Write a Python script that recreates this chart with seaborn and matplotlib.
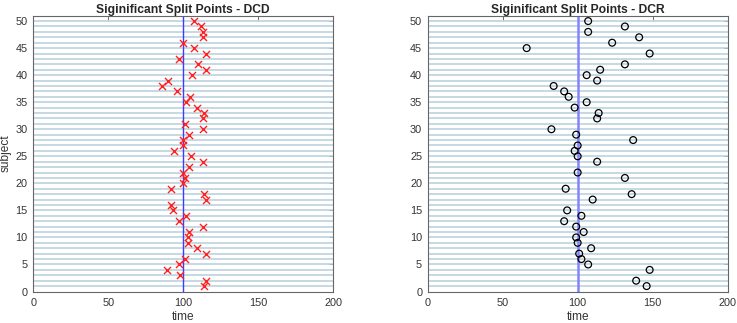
import numpy as np
import pandas as pd
import matplotlib
matplotlib.use("Agg")
import matplotlib.pyplot as plt
import seaborn as sns

# subjects shown as horizontal guide lines
subjects = np.arange(1, 51)
split_ref = 100

# DCD split points (subject -> time)
dcd_subject = [50, 49, 48, 47, 46, 45, 44, 43, 42, 41, 40, 39, 38, 37, 36, 35, 34,
               33, 32, 31, 30, 29, 28, 27, 26, 25, 24, 23, 22, 21, 20, 19, 18, 17,
               16, 15, 14, 13, 12, 11, 10, 9, 8, 7, 6, 5, 4, 3, 2, 1]
dcd_time = [107, 112, 113, 113, 100, 107, 115, 97, 110, 115, 105.5, 90, 86, 95.5, 104.5, 102, 109,
            114, 113, 101, 113, 104, 100, 100, 94, 105, 113, 103.5, 100, 101, 100, 92, 114, 115,
            92, 93, 102, 97, 113, 104, 103, 103, 109, 115, 101, 97, 89, 98, 115, 114]

# DCR split points
dcr_subject = [50, 49, 48, 47, 46, 45, 44, 42, 41, 40, 39, 38, 37, 36, 35, 34, 33, 32,
               30, 29, 28, 27, 26, 25, 24, 22, 21, 19, 18, 17, 15, 14, 13, 12, 11, 10,
               9, 8, 7, 6, 5, 4, 2, 1]
dcr_time = [107, 131.5, 107, 141, 123, 66, 148, 131.5, 115, 106, 113, 84, 91, 94, 106, 98, 114, 113,
            82.5, 99, 137, 100, 98, 100, 113, 100, 131.5, 92, 136, 110, 93, 102.5, 91, 99, 104, 99,
            100, 109, 101, 102.5, 107, 148, 139, 146]

dcd = pd.DataFrame({'subject': dcd_subject, 'time': dcd_time})
dcr = pd.DataFrame({'subject': dcr_subject, 'time': dcr_time})

sns.set_style("white")
plt.rcParams['font.family'] = ['Liberation Sans', 'DejaVu Sans']

fig = plt.figure(figsize=(7.37, 3.23), dpi=100)
ax1 = fig.add_axes([0.0452, 0.0975, 0.407, 0.854])
ax2 = fig.add_axes([0.5803, 0.0975, 0.407, 0.854])

for ax in [ax1, ax2]:
    ax.hlines(subjects, 0, 200, color='#b7cfdc', linewidth=1.1, zorder=1)

ax1.axvline(split_ref, color='#3c3cff', linewidth=1.0, zorder=2)
ax2.axvline(split_ref, color='#8383ff', linewidth=1.8, zorder=2)

sns.scatterplot(data=dcd, x='time', y='subject', ax=ax1, marker='x', color='#ff2020',
                s=26, linewidth=1.0, zorder=3)
sns.scatterplot(data=dcr, x='time', y='subject', ax=ax2, marker='o', facecolor='none',
                edgecolor='black', s=24, linewidth=0.9, zorder=3)

ax1.set_title('Siginificant Split Points - DCD', fontsize=8.7, fontweight='bold', pad=2)
ax2.set_title('Siginificant Split Points - DCR', fontsize=8.7, fontweight='bold', pad=2)

for ax in [ax1, ax2]:
    ax.set_xlim(0, 200)
    ax.set_ylim(0, 51)
    ax.set_xticks([0, 50, 100, 150, 200])
    ax.set_yticks([0, 5, 10, 15, 20, 25, 30, 35, 40, 45, 50])
    ax.tick_params(direction='in', length=3, width=0.6, colors='#555555',
                   labelsize=7.8, labelcolor='#333333', top=True, right=True, pad=4)
    ax.tick_params(axis='x', pad=5)
    ax.set_xlabel('time', fontsize=8.6, color='#333333', labelpad=2)
    for sp in ax.spines.values():
        sp.set_color('#666666')
        sp.set_linewidth(0.8)
        sp.set_visible(True)

ax1.set_ylabel('subject', fontsize=8.6, color='#333333', labelpad=3)
ax2.set_ylabel('')

plt.savefig('out.png', dpi=100)
